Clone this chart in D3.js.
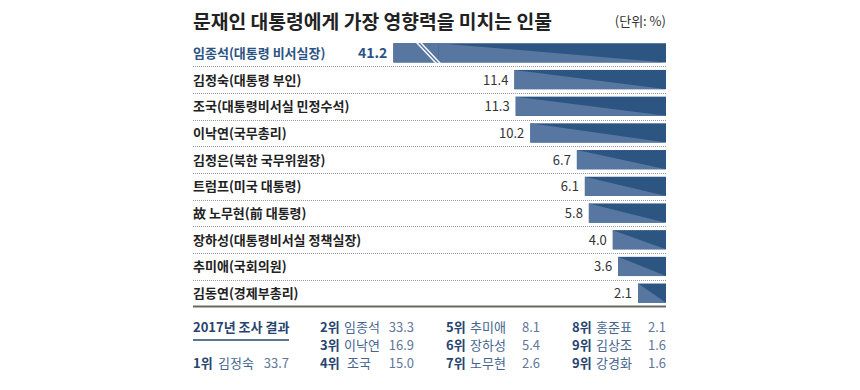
<!DOCTYPE html>
<html><head><meta charset="utf-8">
<script src="https://cdn.jsdelivr.net/npm/d3@7"></script>
<style>
body{margin:0;background:#fff;}
svg{display:block;font-family:"Noto Sans CJK KR","Noto Sans",sans-serif;}
</style></head>
<body>
<svg id="c" width="860" height="390"></svg>
<script>
// ---- data ----
const names = ["임종석(대통령 비서실장)","김정숙(대통령 부인)","조국(대통령비서실 민정수석)","이낙연(국무총리)","김정은(북한 국무위원장)","트럼프(미국 대통령)","故 노무현(前 대통령)","장하성(대통령비서실 정책실장)","추미애(국회의원)","김동연(경제부총리)"];
const values = [41.2, 11.4, 11.3, 10.2, 6.7, 6.1, 5.8, 4.0, 3.6, 2.1];
const title = "문재인 대통령에게 가장 영향력을 미치는 인물";
const unit = "(단위: %)";
const prevTitle = "2017년 조사 결과";
const prevRanks = ["1위","2위","3위","4위","5위","6위","7위","8위","9위","9위"];
const prevNames = ["김정숙","임종석","이낙연","조국","추미애","장하성","노무현","홍준표","김상조","강경화"];
const prevValues = [33.7, 33.3, 16.9, 15.0, 8.1, 5.4, 2.6, 2.1, 1.6, 1.6];

// ---- layout ----
const svg = d3.select("#c");
const L = 193, R = 666;
const dark = "#2c5581", light = "#5777a1", hi = "#2b5384";
const breakCap = 20.5;

const x = d3.scaleLinear().domain([0, 10]).range([R, R - 133]);
const y = d3.scaleBand().domain(names).range([39.5, 306.5]).paddingInner(0.28).paddingOuter(0.14);

svg.append("text").attr("x", L).attr("y", 29).attr("font-size", 19.3).attr("font-weight", 700)
  .attr("fill", "#222").text(title);
svg.append("text").attr("x", R).attr("y", 26).attr("text-anchor", "end").attr("font-size", 13)
  .attr("fill", "#333").text(unit);

// separators
const step = y.step();
const bounds = names.slice(0, -1).map((n, i) => y.range()[0] + (i + 1) * step);
svg.selectAll("line.sep").data(bounds).join("line").attr("class", "sep")
  .attr("x1", L).attr("x2", R).attr("y1", d => Math.round(d) + 0.5).attr("y2", d => Math.round(d) + 0.5)
  .attr("stroke", "#9a9a9a").attr("stroke-width", 1).attr("stroke-dasharray", "1,1");
svg.append("line").attr("x1", L).attr("x2", R).attr("y1", y.range()[1]).attr("y2", y.range()[1])
  .attr("stroke", "#6b6560").attr("stroke-width", 2);

const rows = names.map((n, i) => ({ n, v: values[i], i }));
const g = svg.selectAll("g.row").data(rows).join("g").attr("class", "row");

g.each(function (d) {
  const s = d3.select(this);
  const top = y(d.n), bh = y.bandwidth(), bot = top + bh;
  const broken = d.v > breakCap;
  const left = x(broken ? breakCap : d.v);
  s.append("rect").attr("x", left).attr("y", top).attr("width", R - left).attr("height", bh).attr("fill", dark);
  if (broken) {
    const b0 = left + 23;
    const start = b0 + 22;
    s.append("rect").attr("x", left).attr("y", top).attr("width", start - left).attr("height", bh).attr("fill", light);
    s.append("path").attr("d", `M${start},${top}L${R},${bot}L${start},${bot}Z`).attr("fill", light);
    [0, 4].forEach(o => {
      s.append("line").attr("x1", b0 + o).attr("y1", top - 1).attr("x2", b0 + o + 20).attr("y2", bot + 1)
        .attr("stroke", "#fff").attr("stroke-width", 1.4);
    });
  } else {
    s.append("path").attr("d", `M${left},${top}L${R},${bot}L${left},${bot}Z`).attr("fill", light);
  }
  s.append("text").attr("x", L).attr("y", top + bh / 2 + 5).attr("font-size", 13).attr("font-weight", 700)
    .attr("fill", d.i === 0 ? hi : "#222").text(d.n);
  s.append("text").attr("x", left - 6).attr("y", top + bh / 2 + 5).attr("text-anchor", "end")
    .attr("font-size", d.i === 0 ? 14 : 13).attr("font-weight", d.i === 0 ? 700 : 400)
    .attr("fill", d.i === 0 ? hi : "#333").text(d.v.toFixed(1));
});

// ---- 2017 table ----
const rowY = [332, 350, 368];
const cols = [{ r: L, n: 218, v: 289 }, { r: 320, n: 344, v: 414 }, { r: 446, n: 470, v: 540 }, { r: 572, n: 596, v: 666 }];
svg.append("text").attr("x", L).attr("y", rowY[0]).attr("font-size", 13).attr("font-weight", 700)
  .attr("fill", "#27446e").text(prevTitle);
svg.append("line").attr("x1", L).attr("x2", 289).attr("y1", 340).attr("y2", 340)
  .attr("stroke", "#27446e").attr("stroke-width", 1.5);
const prev = prevRanks.map((r, i) => ({ r, n: prevNames[i], v: prevValues[i], i }));
const pg = svg.selectAll("g.prev").data(prev).join("g").attr("class", "prev");
pg.each(function (d) {
  const ci = d.i === 0 ? 0 : Math.floor((d.i - 1) / 3) + 1;
  const ri = d.i === 0 ? 2 : (d.i - 1) % 3;
  const c = cols[ci], yy = rowY[ri];
  const s = d3.select(this);
  s.append("text").attr("x", c.r).attr("y", yy).attr("font-size", 13).attr("font-weight", 700).attr("fill", "#27446e").text(d.r);
  s.append("text").attr("x", c.n + (d.n.length === 2 ? 3 : 0)).attr("y", yy).attr("font-size", 13).attr("fill", "#46658e").text(d.n);
  s.append("text").attr("x", c.v).attr("y", yy).attr("text-anchor", "end").attr("font-size", 13).attr("fill", "#62769a").text(d.v.toFixed(1));
});
</script>
</body></html>
